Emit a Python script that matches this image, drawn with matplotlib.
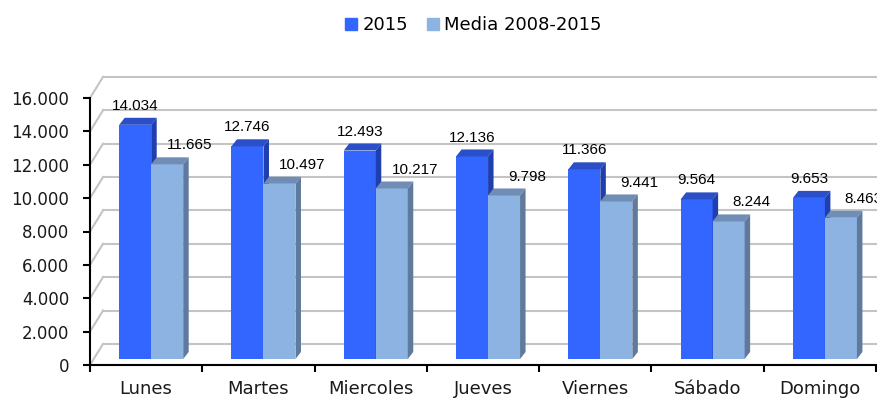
import matplotlib.pyplot as plt
from matplotlib.patches import Polygon, Rectangle
from matplotlib.lines import Line2D

# datos
dias = ["Lunes", "Martes", "Miercoles", "Jueves", "Viernes", "Sábado", "Domingo"]
v2015 = [14034, 12746, 12493, 12136, 11366, 9564, 9653]
media = [11665, 10497, 10217, 9798, 9441, 8244, 8463]
etiquetas = ["2015", "Media 2008-2015"]

def fmt(v):
    return f"{v:,}".replace(",", ".")

# colores (frente, arriba, lado)
col_2015 = ("#3366ff", "#2a4fc6", "#1f3fae")
col_media = ("#8db3e2", "#6f8db5", "#5f7a9d")

fig = plt.figure(figsize=(8.77, 4), dpi=100)
ax = fig.add_axes([90 / 877, 35 / 400, 786 / 877, 267 / 400])
ax.set_xlim(0, 7)
ax.set_ylim(0, 16000)

# profundidad de pared y barras (en unidades de datos)
wdx, wdy = 0.116, 1262
bdx, bdy = 0.045, 360
ddx, ddy = 0.049, 420
w = 0.285

# pared del fondo con rejilla
for t in range(0, 16001, 2000):
    ax.plot([0, wdx], [t, t + wdy], color="#c4c4c4", lw=1.5, zorder=0, clip_on=False)
    ax.plot([wdx, 7.5], [t + wdy, t + wdy], color="#c4c4c4", lw=1.5, zorder=0, clip_on=False)

def barra(x0, v, cols):
    y0 = bdy
    ax.add_patch(Rectangle((x0, y0), w, v, facecolor=cols[0], edgecolor="none", zorder=2))
    ax.add_patch(Polygon([(x0, y0 + v), (x0 + w, y0 + v), (x0 + w + ddx, y0 + v + ddy),
                          (x0 + ddx, y0 + v + ddy)], facecolor=cols[1], edgecolor="none",
                         zorder=2, clip_on=False))
    ax.add_patch(Polygon([(x0 + w, y0), (x0 + w, y0 + v), (x0 + w + ddx, y0 + v + ddy),
                          (x0 + w + ddx, y0 + ddy)], facecolor=cols[2], edgecolor="none",
                         zorder=2, clip_on=False))

for i in range(len(dias)):
    c = i + 0.5 + bdx
    barra(c - w, v2015[i], col_2015)
    barra(c, media[i], col_media)
    ax.annotate(fmt(v2015[i]), (c - w / 2, bdy + v2015[i]), xytext=(0, 8.6),
                textcoords="offset points", ha="center", va="bottom",
                fontsize=11, family="Liberation Sans", zorder=5, annotation_clip=False)
    ax.annotate(fmt(media[i]), (c + w / 2, bdy + media[i]), xytext=(16.5, 8.6),
                textcoords="offset points", ha="center", va="bottom",
                fontsize=11, family="Liberation Sans", zorder=5, annotation_clip=False)

# ejes
for s in ["top", "right"]:
    ax.spines[s].set_visible(False)
for s in ["left", "bottom"]:
    ax.spines[s].set_linewidth(1.5)
    ax.spines[s].set_zorder(3)

ax.set_yticks(range(0, 16001, 2000))
ax.set_yticklabels([fmt(t) for t in range(0, 16001, 2000)], fontsize=12, color="#1a1a1a")
ax.set_xticks(range(8))
ax.set_xticklabels([])
ax.set_xticks([i + 0.5 for i in range(7)], minor=True)
ax.set_xticklabels(dias, minor=True, fontsize=13, color="#1a1a1a")
ax.tick_params(axis="y", length=5, width=1.5, pad=10)
ax.tick_params(axis="x", which="major", length=5, width=1.5)
ax.tick_params(axis="x", which="minor", length=0, pad=11)

handles = [Line2D([], [], marker="s", ls="none", markersize=8, color=col_2015[0]),
           Line2D([], [], marker="s", ls="none", markersize=8, color=col_media[0])]
fig.legend(handles, etiquetas, loc="center", bbox_to_anchor=(472 / 877, 1 - 25 / 400),
           ncol=2, frameon=False, fontsize=13, handletextpad=0.1, columnspacing=0.9,
           handlelength=1.0)

fig.savefig("out.png", dpi=100)
